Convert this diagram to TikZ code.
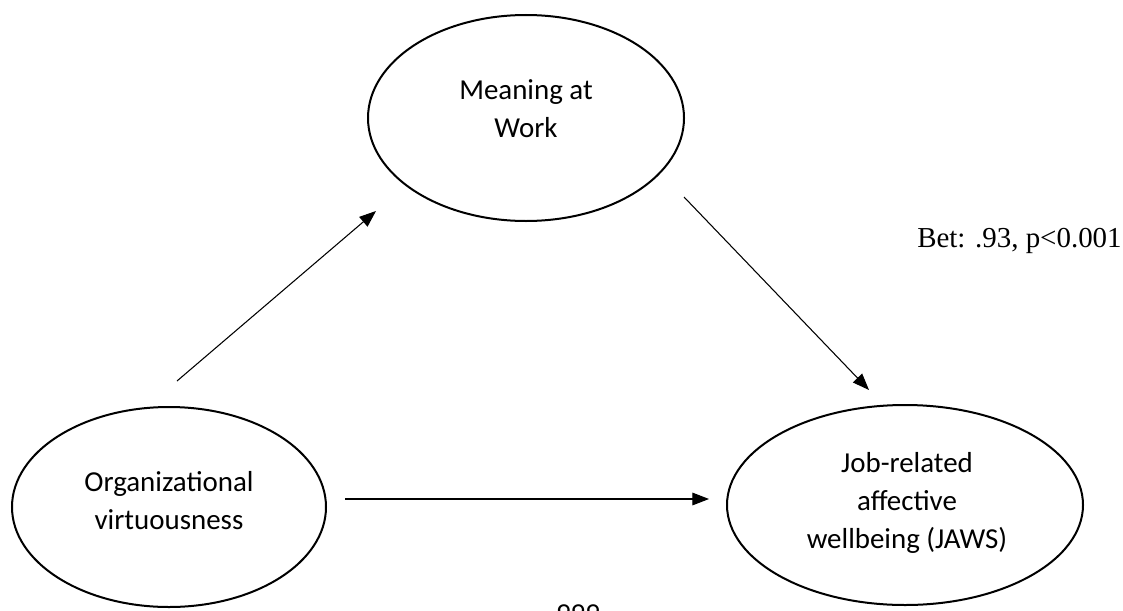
\documentclass[tikz,border=0pt]{standalone}
\usepackage{fontspec}
\setmainfont{Liberation Serif}
\newfontfamily\bodysans{Carlito}
\usetikzlibrary{shapes.geometric,arrows.meta}
\begin{document}
\begin{tikzpicture}[x=0.75pt,y=-0.75pt,
  construct/.style={draw,line width=1.5pt,ellipse,inner sep=0pt},
  ctext/.style={font=\bodysans\fontsize{21.7}{28.5}\selectfont,align=center},
  path/.style={line width=0.8pt,-{Triangle[length=12.5pt,width=9.5pt]}}]
  \clip (0,0) rectangle (1123,610);
  \fill[white] (0,0) rectangle (1123,610);

  % latent constructs (sizes in pt: 1 px = 0.75 pt)
  \node[construct,minimum width=237pt,minimum height=154.5pt] (mean) at (526,118) {};
  \node[construct,minimum width=235.5pt,minimum height=150pt] (org) at (169,507) {};
  \node[construct,minimum width=267pt,minimum height=150pt] (jaws) at (905,505) {};

  \node[ctext] (meantxt) at (526,109) {Meaning at\\Work};
  \node[ctext] (orgtxt) at (169,501) {Organizational\\virtuousness};
  \node[ctext] (jawstxt) at (907,503) {Job-related\\affective\\wellbeing (JAWS)};

  % path end points
  \coordinate (p1s) at (177,381);
  \coordinate (p1e) at (376,211);
  \coordinate (p2s) at (684,197);
  \coordinate (p2e) at (869,390);
  \coordinate (p3s) at (345,499);
  \coordinate (p3e) at (709,499);

  \draw[path] (p1s) -- (p1e);
  \draw[path] (p2s) -- (p2e);
  \draw[path] (p3s) -- (p3e);

  \node[font=\fontsize{21.7}{26}\selectfont,anchor=base west,inner sep=0pt] (coef) at (917,247) {Bet: .93, p<0.001};

  \node[font=\bodysans\fontsize{21.7}{26}\selectfont,anchor=base,inner sep=0pt] (pagenum) at (578,623) {999};
\end{tikzpicture}
\end{document}
